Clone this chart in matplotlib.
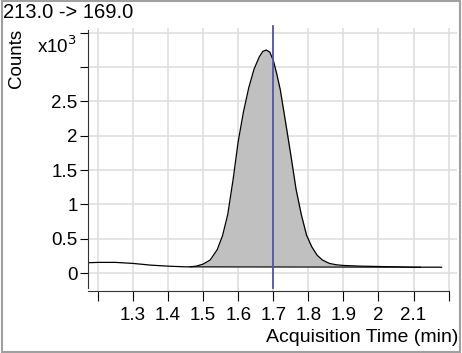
import matplotlib
matplotlib.use("Agg")
import matplotlib.pyplot as plt
from matplotlib.patches import Rectangle

plt.rcParams['font.family'] = ['Liberation Sans', 'DejaVu Sans']

# chromatogram (time in min, counts in x10^3)
times = [1.172, 1.20, 1.25, 1.30, 1.35, 1.40, 1.45, 1.463, 1.48, 1.50,
         1.52, 1.54, 1.555, 1.57, 1.585, 1.60, 1.615, 1.63, 1.645, 1.66,
         1.67, 1.68, 1.69, 1.70, 1.71, 1.72, 1.735, 1.75, 1.765, 1.78,
         1.795, 1.81, 1.825, 1.84, 1.86, 1.88, 1.90, 1.95, 2.00, 2.05,
         2.10, 2.12, 2.15, 2.18]
counts = [0.15, 0.155, 0.155, 0.14, 0.115, 0.10, 0.09, 0.09, 0.10, 0.13,
          0.19, 0.34, 0.54, 0.85, 1.35, 1.92, 2.35, 2.70, 2.97, 3.15,
          3.23, 3.25, 3.22, 3.10, 2.90, 2.67, 2.20, 1.72, 1.22, 0.85,
          0.55, 0.38, 0.26, 0.19, 0.14, 0.12, 0.11, 0.10, 0.095, 0.09,
          0.085, 0.085, 0.085, 0.085]

peak_start, peak_end = 1.463, 2.12
baseline = [0.09, 0.085]
rt_marker = 1.70

x_ticks = [1.2, 1.3, 1.4, 1.5, 1.6, 1.7, 1.8, 1.9, 2.0, 2.1, 2.2]
x_labels = ['', '1.3', '1.4', '1.5', '1.6', '1.7', '1.8', '1.9', '2', '2.1', '']
y_ticks = [0, 0.5, 1.0, 1.5, 2.0, 2.5, 3.0, 3.5]
y_labels = ['0', '0.5', '1', '1.5', '2', '2.5', '', '']

fig = plt.figure(figsize=(4.62, 3.53), dpi=100)
ax = fig.add_axes([88 / 462, 1 - 291 / 353, 369 / 462, 263 / 353])

ax.set_xlim(1.1715, 2.224)
ax.set_ylim(-0.262, 3.571)

ax.set_xticks(x_ticks)
ax.set_xticklabels(x_labels)
ax.set_yticks(y_ticks)
ax.set_yticklabels(y_labels)
ax.grid(True, color='#dddddd', lw=1.1)
ax.set_axisbelow(True)

ax.tick_params(axis='x', direction='out', length=7.5, width=0.8, pad=4, labelsize=13.5)
ax.tick_params(axis='y', direction='out', length=6, width=0.8, pad=1.5, labelsize=13.5)

for s in ['top', 'right']:
    ax.spines[s].set_visible(False)
ax.spines['left'].set_bounds(-0.22, 3.54)
ax.spines['bottom'].set_bounds(1.1715, 2.2)
ax.spines['left'].set_linewidth(0.8)
ax.spines['bottom'].set_linewidth(0.8)
ax.spines['left'].set_color('#333333')
ax.spines['bottom'].set_color('#333333')

# peak area
pk_t = [t for t in times if peak_start <= t <= peak_end]
pk_c = [c for t, c in zip(times, counts) if peak_start <= t <= peak_end]
ax.fill_between(pk_t, pk_c, baseline[0], color='#c0c0c0', lw=0)
ax.plot([peak_start, peak_end], baseline, color='black', lw=0.8)
ax.plot(times, counts, color='black', lw=0.9)

ax.plot([rt_marker, rt_marker], [-0.22, 3.6], color='#5353a8', lw=1.3, clip_on=False)

# texts
fig.text(3 / 462, 1 - 13 / 353, '213.0 -> 169.0', fontsize=14.5, ha='left', va='center')
fig.text(17 / 462, 1 - 58 / 353, 'Counts', fontsize=13.5, rotation=90, ha='center', va='center')
fig.text(37 / 462, 1 - 46 / 353, r'x10$^{3}$', fontsize=13.5, ha='left', va='center')
fig.text(458 / 462, 1 - 338 / 353, 'Acquisition Time (min)', fontsize=14, ha='right', va='center')

# frame around the picture
fig.patches.append(Rectangle((1.5 / 462, 1.5 / 353), 458 / 462, 351 / 353,
                             transform=fig.transFigure, fill=False,
                             edgecolor='#a0a0a0', lw=1.5))

fig.savefig('out.png', dpi=100)
